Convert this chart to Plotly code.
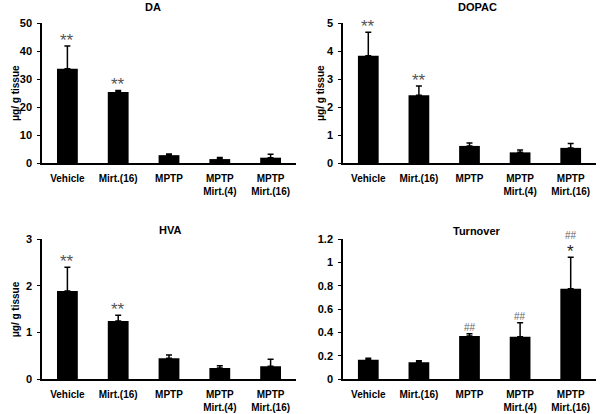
import plotly.graph_objects as go

categories = ["Vehicle", "Mirt.(16)", "MPTP", "MPTP<br>Mirt.(4)", "MPTP<br>Mirt.(16)"]

da_mean = [33.7, 25.4, 2.8, 1.4, 1.9]
da_err = [8.1, 0.5, 0.4, 0.6, 1.2]
dopac_mean = [3.83, 2.42, 0.61, 0.38, 0.54]
dopac_err = [0.84, 0.33, 0.10, 0.08, 0.16]
hva_mean = [1.89, 1.25, 0.45, 0.24, 0.28]
hva_err = [0.51, 0.12, 0.07, 0.05, 0.15]
turn_mean = [0.168, 0.146, 0.371, 0.365, 0.777]
turn_err = [0.012, 0.014, 0.019, 0.12, 0.269]

# significance marks
da_hash = ["", "", "", "", ""]
da_star = ["**", "**", "", "", ""]
dopac_hash = ["", "", "", "", ""]
dopac_star = ["**", "**", "", "", ""]
hva_hash = ["", "", "", "", ""]
hva_star = ["**", "**", "", "", ""]
turn_hash = ["", "", "##", "##", "##"]
turn_star = ["", "", "", "", "*"]

panels = [
    ("DA", da_mean, da_err, da_hash, da_star, [0, 50], 10, True),
    ("DOPAC", dopac_mean, dopac_err, dopac_hash, dopac_star, [0, 5], 1, True),
    ("HVA", hva_mean, hva_err, hva_hash, hva_star, [0, 3], 1, True),
    ("Turnover", turn_mean, turn_err, turn_hash, turn_star, [0, 1.2], 0.2, False),
]

xdoms = [[42 / 600, 296 / 600], [343 / 600, 596 / 600]]
ydoms = [[1 - 163 / 414, 1 - 23 / 414], [1 - 379.3 / 414, 1 - 239.3 / 414]]
title_pos = [(153, 7), (477, 7), (170, 230), (477, 231)]
ytitle_x = [15, 320]

FONT = "Liberation Sans, Arial, sans-serif"
fig = go.Figure()
annotations = []
layout = {}
for i, (name, mean, err, hsh, stars, rng, dt, ytitle) in enumerate(panels):
    col = i % 2
    row = i // 2
    xa = "x" if i == 0 else f"x{i+1}"
    ya = "y" if i == 0 else f"y{i+1}"
    fig.add_trace(go.Bar(
        x=categories, y=mean, xaxis=xa, yaxis=ya,
        marker=dict(color="black", line=dict(width=0)),
        width=0.41,
        error_y=dict(type="data", array=err, arrayminus=[0] * len(err), symmetric=False,
                     color="black", thickness=1.5, width=3),
        showlegend=False, hoverinfo="skip",
    ))
    xkey = "xaxis" if i == 0 else f"xaxis{i+1}"
    ykey = "yaxis" if i == 0 else f"yaxis{i+1}"
    layout[xkey] = dict(domain=xdoms[col], anchor=ya, showline=True, linecolor="black",
                        linewidth=1.5, ticks="", showgrid=False, range=[-0.5, 4.5],
                        automargin=False, ticklabelstandoff=5,
                        tickfont=dict(family=FONT, size=10, color="black", weight="bold"))
    layout[ykey] = dict(domain=ydoms[row], anchor=xa, showline=True, linecolor="black",
                        linewidth=1.5, ticks="outside", ticklen=3, tickwidth=1,
                        tickcolor="black", showgrid=False, range=rng, dtick=dt, tick0=0,
                        zeroline=False, automargin=False, ticklabelstandoff=3,
                        tickfont=dict(family=FONT, size=11, color="black", weight="bold"))
    tx, ty = title_pos[i]
    annotations.append(dict(x=tx / 600, y=1 - ty / 414, xref="paper", yref="paper",
                            text=f"<b>{name}</b>", showarrow=False, xanchor="center",
                            yanchor="middle",
                            font=dict(family=FONT, size=11, color="black")))
    if ytitle:
        annotations.append(dict(x=ytitle_x[col] / 600,
                                y=(ydoms[row][0] + ydoms[row][1]) / 2,
                                xref="paper", yref="paper", text="<b>μg/ g tissue</b>",
                                textangle=-90, showarrow=False, xanchor="center",
                                yanchor="middle",
                                font=dict(family=FONT, size=10, color="black")))
    for c, m, e, h, s in zip(categories, mean, err, hsh, stars):
        top = m + e
        shift = -6
        if s:
            color = "#555555" if s == "**" else "#222222"
            annotations.append(dict(x=c, y=top, xref=xa, yref=ya, text=s,
                                    showarrow=False, yanchor="bottom", xanchor="center",
                                    yshift=shift,
                                    font=dict(family=FONT, size=17, color=color)))
            shift += 11
        if h:
            annotations.append(dict(x=c, y=top, xref=xa, yref=ya, text=h,
                                    showarrow=False, yanchor="bottom", xanchor="center",
                                    yshift=shift + 9 if s else -1,
                                    font=dict(family=FONT, size=10, color="#666666")))

fig.update_layout(
    width=600, height=414,
    margin=dict(l=0, r=0, t=0, b=0, autoexpand=False),
    paper_bgcolor="white", plot_bgcolor="white",
    annotations=annotations,
    font=dict(family=FONT, color="black"),
    **layout,
)
fig.write_html("out.html", config={"displayModeBar": False},
               post_script="document.body.style.margin='0';")
